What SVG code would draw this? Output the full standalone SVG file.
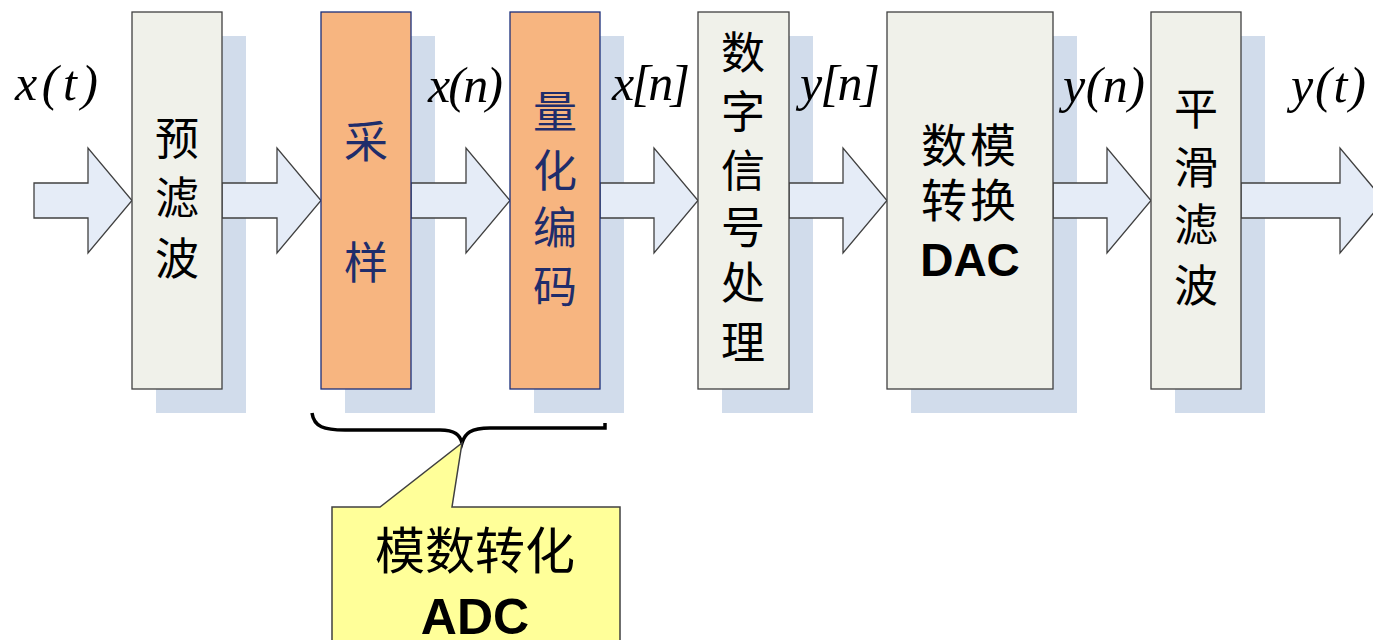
<svg xmlns="http://www.w3.org/2000/svg" width="1373" height="640" viewBox="0 0 1373 640">
<style>
.sh{fill:#D1DCEB;stroke:none}
.bx{fill:#F0F1EA;stroke:#404040;stroke-width:1.3}
.or{fill:#F7B580;stroke:#1B2F7A;stroke-width:1.3}
.ar{fill:#E5ECF7;stroke:#404040;stroke-width:1.3;stroke-linejoin:miter}
.cj{font-family:"Noto Sans CJK SC",sans-serif;font-size:44px;fill:#000;text-anchor:middle}
.nv{fill:#1F2D6B}
.lb{font-family:"Liberation Serif",serif;font-style:italic;font-size:50px;fill:#000}
.bd{font-family:"Liberation Sans",Arial,sans-serif;font-weight:bold;fill:#000;text-anchor:middle}
</style>
<rect width="1373" height="640" fill="#FFFFFF"/>
<g id="shadows">
<rect class="sh" x="156" y="36" width="90" height="377"/>
<rect class="sh" x="345" y="36" width="90" height="377"/>
<rect class="sh" x="534" y="36" width="90" height="377"/>
<rect class="sh" x="722" y="36" width="91" height="377"/>
<rect class="sh" x="911" y="36" width="166" height="377"/>
<rect class="sh" x="1175" y="36" width="90" height="377"/>
</g>
<g id="connectors">
<path class="ar" d="M34,183 H88 V148 L132,200.5 L88,253 V218 H34 Z"/>
<path class="ar" d="M222,183 H277 V148 L321,200.5 L277,253 V218 H222 Z"/>
<path class="ar" d="M411,183 H466 V148 L510,200.5 L466,253 V218 H411 Z"/>
<path class="ar" d="M600,183 H654 V148 L698,200.5 L654,253 V218 H600 Z"/>
<path class="ar" d="M789,183 H843 V148 L887,200.5 L843,253 V218 H789 Z"/>
<path class="ar" d="M1053,183 H1107 V148 L1151,200.5 L1107,253 V218 H1053 Z"/>
<path class="ar" d="M1241,183 H1340 V148 L1384,200.5 L1340,253 V218 H1241 Z"/>
</g>
<g id="n-prefilter">
<rect class="bx" x="132" y="12" width="90" height="377"/>
<text class="cj" x="177" y="155">预</text>
<text class="cj" x="177" y="214">滤</text>
<text class="cj" x="177" y="275">波</text>
</g>
<g id="n-sample">
<rect class="or" x="321" y="12" width="90" height="377"/>
<text class="cj nv" x="366" y="158">采</text>
<text class="cj nv" x="366" y="279">样</text>
</g>
<g id="n-quant">
<rect class="or" x="510" y="12" width="90" height="377"/>
<text class="cj nv" x="555" y="128">量</text>
<text class="cj nv" x="555" y="187">化</text>
<text class="cj nv" x="555" y="244">编</text>
<text class="cj nv" x="555" y="303">码</text>
</g>
<g id="n-dsp">
<rect class="bx" x="698" y="12" width="91" height="377"/>
<text class="cj" x="743" y="69">数</text>
<text class="cj" x="743" y="128">字</text>
<text class="cj" x="743" y="187">信</text>
<text class="cj" x="743" y="244">号</text>
<text class="cj" x="743" y="299">处</text>
<text class="cj" x="743" y="359">理</text>
</g>
<g id="n-dac">
<rect class="bx" x="887" y="12" width="166" height="377"/>
<text class="cj" x="970" y="162" style="font-size:46px;letter-spacing:3px">数模</text>
<text class="cj" x="970" y="217" style="font-size:46px;letter-spacing:3px">转换</text>
<text class="bd" x="970" y="276" style="font-size:46px">DAC</text>
</g>
<g id="n-smooth">
<rect class="bx" x="1151" y="12" width="90" height="377"/>
<text class="cj" x="1196" y="125">平</text>
<text class="cj" x="1196" y="184">滑</text>
<text class="cj" x="1196" y="241">滤</text>
<text class="cj" x="1196" y="302">波</text>
</g>
<g id="labels">
<text class="lb" x="15" y="100" textLength="83" lengthAdjust="spacing">x(t)</text>
<text class="lb" x="428" y="102" textLength="75" lengthAdjust="spacing">x(n)</text>
<text class="lb" x="612" y="100" textLength="78" lengthAdjust="spacing">x[n]</text>
<text class="lb" x="800" y="100" textLength="80" lengthAdjust="spacing">y[n]</text>
<text class="lb" x="1063" y="102" textLength="82" lengthAdjust="spacing">y(n)</text>
<text class="lb" x="1291" y="102" textLength="75" lengthAdjust="spacing">y(t)</text>
</g>
<g id="brace">
<path d="M312,413 C314,427 324,430 345,430 L440,430 C455,430 460,435 462,443 C465,433 471,428 490,428 L605,428 L605,423" fill="none" stroke="#000" stroke-width="3.5"/>
</g>
<g id="n-adc-callout">
<path d="M332,507 H380 L462,443 L452,507 H620 V645 H332 Z" fill="#FFFF99" stroke="#404040" stroke-width="1.5"/>
<text class="cj" x="475" y="569" style="font-size:50px">模数转化</text>
<text class="bd" x="475" y="634" style="font-size:50px">ADC</text>
</g>
</svg>
